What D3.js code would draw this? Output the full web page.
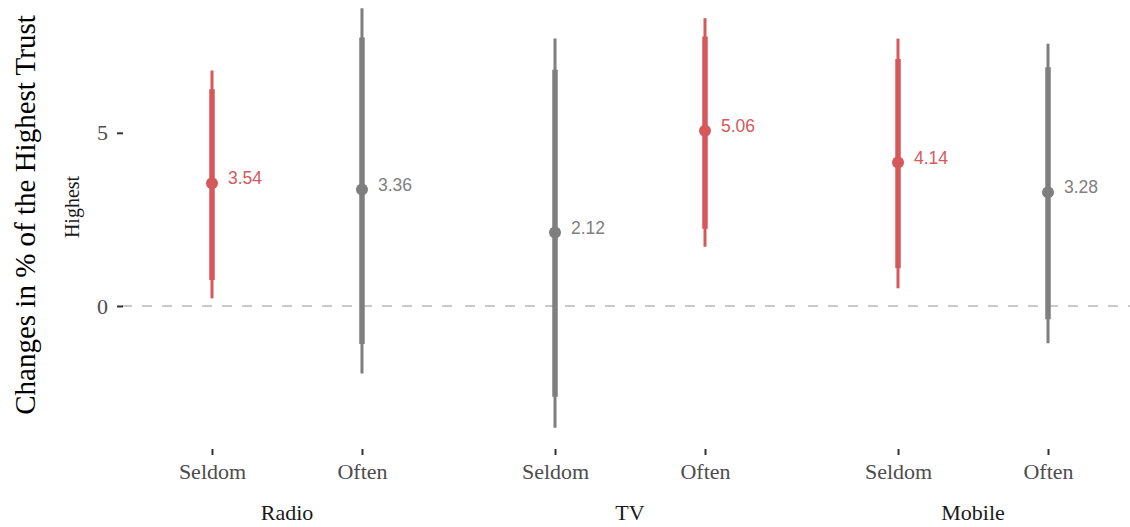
<!DOCTYPE html>
<html>
<head>
<meta charset="utf-8">
<script src="https://cdn.jsdelivr.net/npm/d3@7"></script>
<style>
  body { margin: 0; background: #fff; }
  svg { display: block; }
</style>
</head>
<body>
<svg></svg>
<script>
// data
const media = ["Radio", "TV", "Mobile"];
const usage = ["Seldom", "Often"];
const estimates = [3.54, 3.36, 2.12, 5.06, 4.14, 3.28];
const innerLow = [0.75, -1.10, -2.62, 2.23, 1.09, -0.38];
const innerHigh = [6.26, 7.75, 6.82, 7.78, 7.13, 6.89];
const outerLow = [0.22, -1.95, -3.52, 1.71, 0.51, -1.08];
const outerHigh = [6.80, 8.60, 7.72, 8.31, 7.72, 7.57];
const significant = [true, false, false, true, true, false];
const yTicks = [0, 5];

const width = 1130;
const height = 527;
const serif = "'Liberation Serif', 'Times New Roman', serif";
const svg = d3.select("svg").attr("width", width).attr("height", height);

const rows = estimates.map((e, i) => ({
  medium: media[Math.floor(i / 2)],
  use: usage[i % 2],
  est: e,
  lo: innerLow[i], hi: innerHigh[i],
  lo2: outerLow[i], hi2: outerHigh[i],
  sig: significant[i]
}));

const panelTop = -13, panelBottom = 449;
const yScale = d3.scaleLinear().domain([-4.13, 9.21]).range([panelBottom, panelTop]);
const panelScale = d3.scaleBand().domain(media).range([122, 1138]).paddingInner(0.038).paddingOuter(0);
const xScale = d3.scalePoint().domain(usage).range([0, panelScale.bandwidth()]).padding(0.6);
const colour = d3.scaleOrdinal().domain([true, false]).range(["#d6585b", "#7f7f7f"]);

// panels
const panels = svg.selectAll("g.panel").data(media).enter().append("g")
  .attr("class", "panel")
  .attr("transform", d => "translate(" + panelScale(d) + ",0)");

panels.append("line")
  .attr("x1", 0).attr("x2", panelScale.bandwidth())
  .attr("y1", yScale(0)).attr("y2", yScale(0))
  .attr("stroke", "#c9c9c9").attr("stroke-width", 2)
  .attr("stroke-dasharray", "10,10");

panels.each(function(m) {
  const g = d3.select(this);
  const xAxis = d3.axisBottom(xScale).tickSize(6).tickPadding(8);
  const ax = g.append("g").attr("transform", "translate(0," + panelBottom + ")").call(xAxis);
  ax.select(".domain").remove();
  ax.selectAll(".tick line").attr("stroke", "#333").attr("stroke-width", 2);
  ax.selectAll(".tick text")
    .attr("fill", "#4d4d4d")
    .attr("font-family", serif).style("font-family", serif)
    .style("font-size", "22px");

  g.append("text")
    .attr("x", panelScale.bandwidth() / 2).attr("y", 520)
    .attr("text-anchor", "middle")
    .attr("fill", "#1a1a1a")
    .attr("font-family", serif).style("font-family", serif)
    .style("font-size", "22px")
    .text(m);

  const pts = g.selectAll("g.est").data(rows.filter(r => r.medium === m)).enter().append("g")
    .attr("class", "est")
    .attr("transform", d => "translate(" + xScale(d.use) + ",0)");

  pts.append("line")
    .attr("y1", d => yScale(d.lo2)).attr("y2", d => yScale(d.hi2))
    .attr("stroke", d => colour(d.sig)).attr("stroke-width", 3);
  pts.append("line")
    .attr("y1", d => yScale(d.lo)).attr("y2", d => yScale(d.hi))
    .attr("stroke", d => colour(d.sig)).attr("stroke-width", 5.5);
  pts.append("circle")
    .attr("cy", d => yScale(d.est)).attr("r", 6)
    .attr("fill", d => colour(d.sig));
  pts.append("text")
    .attr("x", 16).attr("y", d => yScale(d.est) - 5)
    .attr("dy", "0.35em")
    .attr("fill", d => colour(d.sig))
    .style("font-family", "'Liberation Sans', Arial, sans-serif")
    .style("font-size", "17.5px")
    .text(d => d.est.toFixed(2));
});

// y axis
const yAxis = d3.axisLeft(yScale).tickValues(yTicks).tickSize(6).tickPadding(9);
const yg = svg.append("g").attr("transform", "translate(123,0)").call(yAxis);
yg.select(".domain").remove();
yg.selectAll(".tick line").attr("stroke", "#333").attr("stroke-width", 2);
yg.selectAll(".tick text")
  .attr("fill", "#4d4d4d")
  .attr("font-family", serif).style("font-family", serif)
  .style("font-size", "22px");

// strip label
svg.append("text")
  .attr("transform", "translate(79,207) rotate(-90)")
  .attr("text-anchor", "middle")
  .attr("fill", "#1a1a1a")
  .style("font-family", serif)
  .style("font-size", "20px")
  .text("Highest");

// y title
svg.append("text")
  .attr("transform", "translate(35,215) rotate(-90)")
  .attr("text-anchor", "middle")
  .attr("fill", "#000")
  .style("font-family", serif)
  .style("font-size", "29px")
  .text("Changes in % of the Highest Trust");
</script>
</body>
</html>
